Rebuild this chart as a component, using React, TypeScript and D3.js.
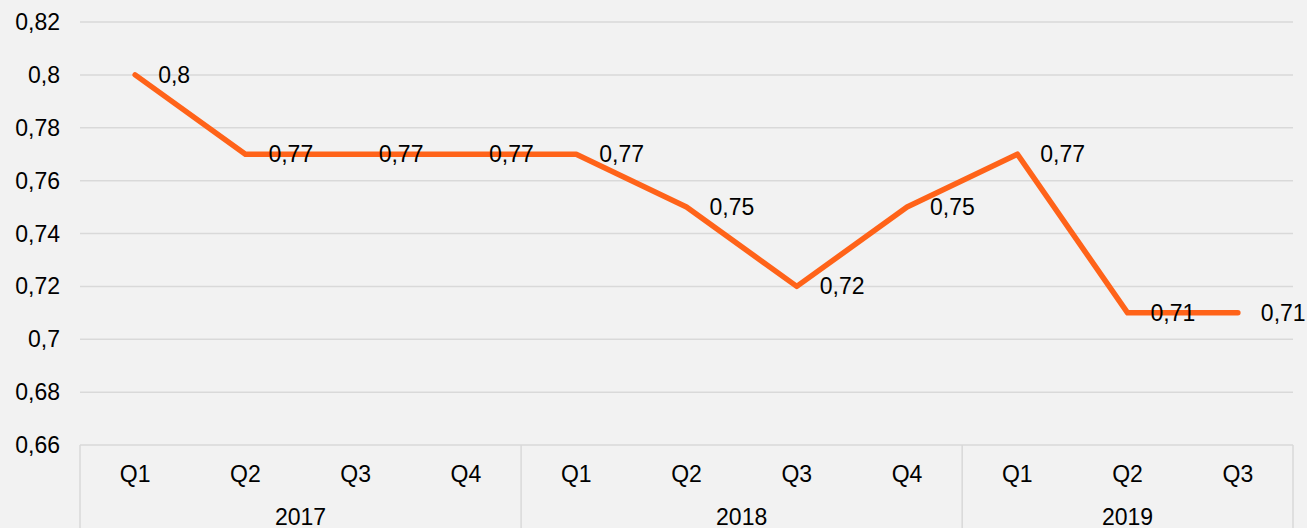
import React from "react";
import * as d3 from "d3";

const quarters = ["Q1", "Q2", "Q3", "Q4", "Q1", "Q2", "Q3", "Q4", "Q1", "Q2", "Q3"];
const years = ["2017", "2018", "2019"];
const yearOf = [0, 0, 0, 0, 1, 1, 1, 1, 2, 2, 2];
const values = [0.8, 0.77, 0.77, 0.77, 0.77, 0.75, 0.72, 0.75, 0.77, 0.71, 0.71];
const yTicks = [0.66, 0.68, 0.7, 0.72, 0.74, 0.76, 0.78, 0.8, 0.82];

const W = 1307;
const H = 528;
const left = 80;
const right = 1293;
const top = 22;
const bottom = 445;
const font = "'Liberation Sans', Arial, sans-serif";
const fmt = (v: number) => String(+v.toFixed(2)).replace(".", ",");

export default function App() {
  const x = d3
    .scaleBand<number>()
    .domain(d3.range(quarters.length))
    .range([left, right]);
  const y = d3.scaleLinear().domain([0.66, 0.82]).range([bottom, top]);
  const line = d3
    .line<number>()
    .x((_, i) => (x(i) as number) + x.bandwidth() / 2)
    .y((d) => y(d));

  // group boundaries
  const groups = years.map((yr, g) => {
    const idx = yearOf.map((v, i) => (v === g ? i : -1)).filter((i) => i >= 0);
    const x0 = x(idx[0]) as number;
    const x1 = (x(idx[idx.length - 1]) as number) + x.bandwidth();
    return { yr, x0, x1 };
  });
  const bounds = [groups[0].x0, ...groups.map((g) => g.x1)];

  return (
    <svg
      width={W}
      height={H}
      style={{ position: "absolute", left: 0, top: 0, display: "block" }}
      fontFamily={font}
    >
      <rect x={0} y={0} width={W} height={H} fill="#f2f2f2" />
      {yTicks.map((t) => (
        <g key={t}>
          <line x1={left} x2={right} y1={y(t)} y2={y(t)} stroke="#d9d9d9" strokeWidth={1.5} />
          <text x={60} y={y(t)} textAnchor="end" dominantBaseline="central" fontSize={23} fill="#000">
            {fmt(t)}
          </text>
        </g>
      ))}
      {bounds.map((b, i) => (
        <line key={i} x1={b} x2={b} y1={bottom} y2={H} stroke="#d9d9d9" strokeWidth={1.5} />
      ))}
      {quarters.map((q, i) => (
        <text
          key={i}
          x={(x(i) as number) + x.bandwidth() / 2}
          y={474}
          textAnchor="middle"
          dominantBaseline="central"
          fontSize={23}
          fill="#000"
        >
          {q}
        </text>
      ))}
      {groups.map((g) => (
        <text
          key={g.yr}
          x={(g.x0 + g.x1) / 2}
          y={517}
          textAnchor="middle"
          dominantBaseline="central"
          fontSize={23}
          fill="#000"
        >
          {g.yr}
        </text>
      ))}
      <path
        d={line(values) || ""}
        fill="none"
        stroke="#ff6319"
        strokeWidth={5.5}
        strokeLinecap="round"
        strokeLinejoin="round"
      />
      {values.map((v, i) => (
        <text
          key={i}
          x={(x(i) as number) + x.bandwidth() / 2 + 23}
          y={y(v)}
          dominantBaseline="central"
          fontSize={23}
          fill="#000"
        >
          {fmt(v)}
        </text>
      ))}
    </svg>
  );
}
